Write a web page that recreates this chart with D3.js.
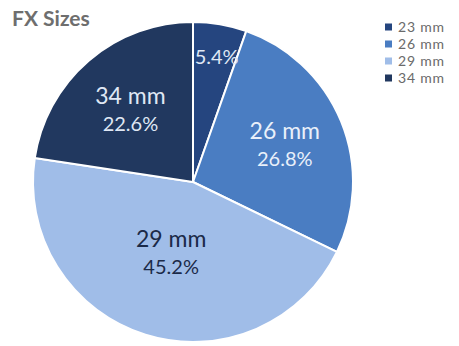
<!DOCTYPE html>
<html>
<head>
<meta charset="utf-8">
<script src="https://cdn.jsdelivr.net/npm/d3@7"></script>
<style>
  html, body { margin: 0; padding: 0; background: #fff; }
  svg { display: block; font-family: Lato, "Open Sans", sans-serif; }
</style>
</head>
<body>
<svg id="chart" width="459" height="346"></svg>
<script>
// Share of FX sizes
const categories = ["23 mm", "26 mm", "29 mm", "34 mm"];
const shares = [5.4, 26.8, 45.2, 22.6];
const colors = ["#25457f", "#4a7dc2", "#a0bde8", "#21385f"];
const labelInk = ["#dfe7f4", "#e9f0fa", "#1b2a48", "#dfe7f4"];
// label distance from the centre, as a fraction of the radius
const labelReach = [0.8, 0.62, 0.46, 0.6];
const showName = [false, true, true, true];

const svg = d3.select("#chart");
const cx = 193, cy = 182, R = 160;

svg.append("text")
  .attr("x", 12).attr("y", 26)
  .attr("font-size", 21).attr("font-weight", 700)
  .attr("fill", "#6e6e6e")
  .text("FX Sizes");

const pie = d3.pie().sort(null).value(d => d.v);
const data = categories.map((c, i) => ({ c, v: shares[i], i }));
const arcs = pie(data);
const arc = d3.arc().innerRadius(0).outerRadius(R);

const g = svg.append("g").attr("transform", `translate(${cx},${cy})`);

g.selectAll("path").data(arcs).join("path")
  .attr("d", arc)
  .attr("fill", d => colors[d.data.i])
  .attr("stroke", "#fff")
  .attr("stroke-width", 2)
  .attr("stroke-linejoin", "round");

arcs.forEach(d => {
  const i = d.data.i;
  const r = R * labelReach[i];
  const a = (d.startAngle + d.endAngle) / 2;
  const x = Math.sin(a) * r, y = -Math.cos(a) * r;
  const t = g.append("text")
    .attr("text-anchor", "middle")
    .attr("fill", labelInk[i]);
  if (showName[i]) {
    t.append("tspan").attr("x", x).attr("y", y - 5)
      .attr("font-size", 23).text(d.data.c);
    t.append("tspan").attr("x", x).attr("y", y + 22)
      .attr("font-size", 20).text(d.data.v.toFixed(1) + "%");
  } else {
    t.append("tspan").attr("x", x + 2).attr("y", y + 8)
      .attr("font-size", 20).text(d.data.v.toFixed(1) + "%");
  }
});

// Legend
const lg = svg.append("g").attr("transform", "translate(385,27)");
const row = lg.selectAll("g").data(categories).join("g")
  .attr("transform", (d, i) => `translate(0,${i * 17})`);
row.append("rect")
  .attr("x", 0).attr("y", -3.5).attr("width", 7).attr("height", 7)
  .attr("fill", (d, i) => colors[i]);
row.append("text")
  .attr("x", 13).attr("y", 5)
  .attr("font-size", 14).attr("letter-spacing", 0.8)
  .attr("fill", "#6a6a6a")
  .text(d => d);
</script>
</body>
</html>
